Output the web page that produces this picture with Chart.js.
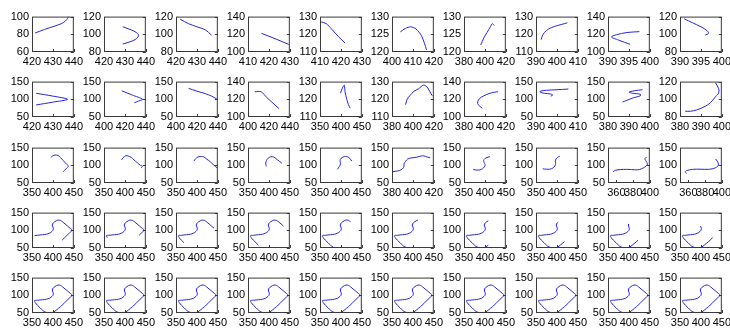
<!DOCTYPE html>
<html>
<head>
<meta charset="utf-8">
<script src="https://cdn.jsdelivr.net/npm/chart.js@4.4.0/dist/chart.umd.min.js"></script>
<style>
  html, body { margin: 0; padding: 0; background: #fff; }
  #lienzo { position: relative; width: 730px; height: 333px; overflow: hidden; }
  #lienzo canvas { position: absolute; }
</style>
</head>
<body>
<div id="lienzo"></div>
<script>
// Marcas de los ejes, panel por panel (5 filas x 10 columnas)
const xTicks = [
    [420,430,440],[420,430,440],[420,430,440],[410,420,430],[410,420,430],[400,410,420],[380,400,420],[390,400,410],[390,395,400],[390,395,400],
    [420,430,440],[400,420,440],[400,420,440],[400,420,440],[350,400,450],[380,400,420],[380,400,420],[390,400,410],[380,390,400],[380,390,400],
    [350,400,450],[350,400,450],[350,400,450],[350,400,450],[350,400,450],[380,400,420],[350,400,450],[350,400,450],[360,380,400],[360,380,400]
];
const yTicks = [
    [60,80,100],[80,100,120],[80,100,120],[100,120,140],[110,120,130],[120,125,130],[120,125,130],[110,120,130],[100,120,140],[80,100,120],
    [50,100,150],[50,100,150],[50,100,150],[100,120,140],[110,120,130],[110,120,130],[100,120,140],[50,100,150],[50,100,150],[80,100,120]
];
const ticksComunes = [50,100,150];      // filas 3 a 5 en y, filas 4 y 5 en x
const xMinimoEspecial = { 28: 350, 29: 350 }; // ejes que no empiezan en la primera marca

// Curvas de las tres primeras filas: pares [x, y]
const curvasFila1 = [
    [[421.5,81.5],[426,85.5],[430.5,89],[434,92],[436,95],[437,98],[437.5,100]],
    [[429,108.5],[433,105],[435.5,102],[436.5,99],[435.5,95],[433,92],[429,89]],
    [[422,117],[426,112],[430,108.5],[434,105],[437,99]],
    [[416.5,121],[423,115],[429.5,108.5]],
    [[410.5,127],[413,126],[415.5,123],[419,118.5],[422,115]],
    [[404,125.7],[406.5,126.7],[409,127.1],[411.5,126.5],[414,124.7],[415.5,122.5],[416.5,120.6]],
    [[396,122],[399,124],[402,125.5],[405,127],[407,128],[409,127.5]],
    [[392.5,117],[393,119],[394,121],[396,123],[399,124.5],[402,125.5],[405,126.5]],
    [[397.5,123],[394.5,122],[392,119.5],[390.8,117],[392.5,113.5],[395.3,108.6]],
    [[391,117.5],[393,113],[395,108.5],[396.5,104],[396.8,101],[396,99]]
];
const curvasFila2 = [
    [[422,117],[430,109],[437,100],[430,92],[422,84]],
    [[417,124],[427,112],[437,100],[433,95],[429,90]],
    [[412,131],[420,123],[428,116],[434,109],[439,101]],
    [[406.5,128.5],[412.5,128.5],[418,122],[424,115.5],[429.5,109.5]],
    [[399,123.5],[403,126],[408,128],[410,124],[414,120],[418,117],[422,115]],
    [[393,117],[394.5,120],[397,122],[401,124.5],[405.5,126],[410,128],[413.5,127],[416,124.5],[418.5,122]],
    [[397.5,110],[393.5,114],[393,117],[395,121],[399,124],[404,126.5],[409,128],[412.5,128.5]],
    [[405.5,129],[400,127],[395,125.5],[392,123],[392,120],[394,117],[397,115],[398,112],[397,109]],
    [[396.5,127],[392.5,124],[390,120],[392,117],[395.5,114],[395.5,110],[392,104],[389,97],[387,92]],
    [[397,118.5],[398.5,112],[398.5,107],[397,103],[394.5,96],[392,92],[388,88],[385,86.5],[382.5,86.5]]
];
const curvasFila3 = [
    [[395,122.5],[400,127],[405,129],[412,128],[418,122],[425,113],[432,104],[437,98],[433,92],[428,86],[425,82]],
    [[392,115],[396,122],[402,127],[408,126],[415,122.5],[422,115],[430,107],[437,100],[442,97],[438.5,93]],
    [[393,112],[395,116],[399,121],[405,124.5],[411,125],[416,124],[424,117],[432,110],[440,101],[448,93]],
    [[394,97],[392.5,103],[393,110],[396,117],[401,122.5],[408,124.5],[414,121.5],[420,116],[426,110.5],[431,106]],
    [[391.5,88.5],[396,96],[399,104],[398,111],[398.5,117],[403,122],[408,124.5],[414,124.5],[419,122],[423,117],[426,112]],
    [[380.5,82],[384,83.5],[387,85],[390,90],[391.5,97],[391.5,104],[393,111],[395,118],[399,121],[403,122.5],[409,127],[412,125],[416.5,121]],
    [[372,88],[380,86.5],[388,87],[394,90],[399,96],[400.5,102],[398,108],[397,114],[400,119],[405,122],[412,124.5]],
    [[366,90],[375,89],[383,89],[390,92],[395,98],[397,105],[396,112],[398,118],[402,123],[407,126]],
    [[356,82],[359,86],[365,88],[372,88.5],[378,88],[385,87],[390,90],[394,95],[397,101],[396.5,108],[395,114],[394,119],[396,122]],
    [[358,77],[356,81],[358,85],[365,88.5],[374,89],[384,88.5],[390,91],[394,95],[396,101],[395.5,107],[394.5,112],[392.5,118]]
];

// Trayectoria cerrada completa (filas 4 y 5 muestran tramos de ella)
const trayX = [422,428,434,440,446,441,435,429,423,418,412,408,403,399,399,401,400,395,388,380,371,363,356,358,363,369,375,381,388,396,402,408,414,418];
const trayY = [72,79,86,93,100,106,112,118,124,128,129,127,123,118,112,106,100,94,90,88,87,86,85,79,72,65,58,53,51,51,53,58,64,68];
// [inicio, cantidad de puntos]
const ventanasFila4 = [[0,23],[2,22],[5,21],[6,21],[8,20],[10,21],[11,21],[12,22],[13,22],[14,22]];
const ventanasFila5 = [[0,35],[0,35],[0,35],[0,35],[0,35],[0,35],[0,35],[0,35],[0,35],[0,35]];

const azul = '#2424dc';
const fuente = { family: "'Liberation Sans', Arial, sans-serif", size: 11 };

// Recuadro y marcas hacia adentro (estilo MATLAB)
const marco = {
    id: 'marco',
    afterDatasetsDraw(chart) {
        const { ctx, chartArea: a, scales } = chart;
        ctx.save();
        ctx.strokeStyle = '#3a3a3a';
        ctx.lineWidth = 1;
        ctx.strokeRect(a.left + 0.5, a.top + 0.5, a.right - a.left - 1, a.bottom - a.top - 1);
        ctx.beginPath();
        scales.x.ticks.forEach(t => {
            const px = Math.round(scales.x.getPixelForValue(t.value)) + 0.5;
            ctx.moveTo(px, a.bottom);
            ctx.lineTo(px, a.bottom - 3);
        });
        scales.y.ticks.forEach(t => {
            const py = Math.round(scales.y.getPixelForValue(t.value)) + 0.5;
            ctx.moveTo(a.right, py);
            ctx.lineTo(a.right - 3, py);
        });
        ctx.stroke();
        ctx.restore();
    }
};

const puntosDeVentana = (inicio, cantidad) => {
    const n = trayX.length;
    const pts = [];
    for (let i = 0; i < cantidad; i++) {
        const k = (inicio + i) % n;
        pts.push({ x: trayX[k], y: trayY[k] });
    }
    return pts;
};

const dibujarPanel = (indice) => {
    const fila = Math.floor(indice / 10);
    const col = indice % 10;
    const xt = fila < 3 ? xTicks[indice] : ticksComunes.map(v => v * 1 + 300);
    const yt = fila < 2 ? yTicks[indice] : ticksComunes;

    let puntos;
    if (fila === 0) puntos = curvasFila1[col].map(p => ({ x: p[0], y: p[1] }));
    else if (fila === 1) puntos = curvasFila2[col].map(p => ({ x: p[0], y: p[1] }));
    else if (fila === 2) puntos = curvasFila3[col].map(p => ({ x: p[0], y: p[1] }));
    else if (fila === 3) puntos = puntosDeVentana(...ventanasFila4[col]);
    else puntos = puntosDeVentana(...ventanasFila5[col]);

    const izq = 32 + 72 * col;
    const arriba = Math.round(13 + 65.3 * fila);
    const canvas = document.createElement('canvas');
    canvas.width = 84;
    canvas.height = 65;
    canvas.style.left = (izq - 30) + 'px';
    canvas.style.top = (arriba - 6) + 'px';
    document.getElementById('lienzo').appendChild(canvas);

    const xMin = xMinimoEspecial[indice] !== undefined ? xMinimoEspecial[indice] : xt[0];

    new Chart(canvas, {
        type: 'scatter',
        data: {
            datasets: [{
                data: puntos,
                showLine: true,
                borderColor: azul,
                borderWidth: 1,
                pointRadius: 0,
                tension: 0.3,
                fill: false
            }]
        },
        options: {
            responsive: false,
            animation: false,
            devicePixelRatio: 1,
            events: [],
            layout: { padding: { top: 6, right: 10, left: 0, bottom: 0 } },
            plugins: { legend: { display: false }, tooltip: { enabled: false } },
            scales: {
                x: {
                    type: 'linear',
                    min: xMin,
                    max: xt[2],
                    afterBuildTicks: s => { s.ticks = xt.map(v => ({ value: v })); },
                    afterFit: s => { s.height = 20; },
                    grid: { display: false, drawTicks: false },
                    border: { display: false },
                    ticks: { autoSkip: false, maxRotation: 0, minRotation: 0, padding: 3, color: '#000', font: fuente }
                },
                y: {
                    type: 'linear',
                    min: yt[0],
                    max: yt[2],
                    afterBuildTicks: s => { s.ticks = yt.map(v => ({ value: v })); },
                    afterFit: s => { s.width = 30; },
                    grid: { display: false, drawTicks: false },
                    border: { display: false },
                    ticks: { autoSkip: false, padding: 3, color: '#000', font: fuente }
                }
            }
        },
        plugins: [marco]
    });
};

window.addEventListener('DOMContentLoaded', () => {
    for (let i = 0; i < 50; i++) dibujarPanel(i);
});
</script>
</body>
</html>
